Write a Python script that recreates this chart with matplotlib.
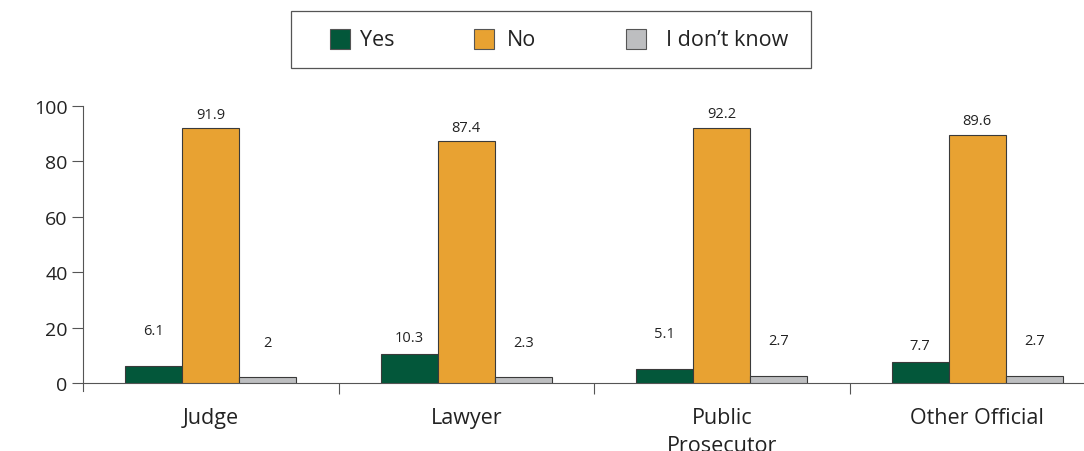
import matplotlib
matplotlib.use("Agg")
import matplotlib.pyplot as plt
from matplotlib.patches import Rectangle
import numpy as np

plt.rcParams['font.family'] = ['Open Sans', 'DejaVu Sans']

categories = ["Judge", "Lawyer", "Public\nProsecutor", "Other Official"]
series_names = ["Yes", "No", "I don\u2019t know"]
yes_vals = [6.1, 10.3, 5.1, 7.7]
no_vals = [91.9, 87.4, 92.2, 89.6]
idk_vals = [2, 2.3, 2.7, 2.7]
value_labels_yes = ["6.1", "10.3", "5.1", "7.7"]
value_labels_no = ["91.9", "87.4", "92.2", "89.6"]
value_labels_idk = ["2", "2.3", "2.7", "2.7"]
yticks = [0, 20, 40, 60, 80, 100]

# label heights (layout) for the small bars' annotations
yes_label_y = [18.8, 16.6, 17.7, 13.7]
idk_label_y = [14.8, 14.8, 15.2, 15.2]

colors = ["#03573A", "#E8A232", "#BDBEC0"]
W, H = 1084, 452

fig = plt.figure(figsize=(W / 100, H / 100), dpi=100)
ax = fig.add_axes([83 / W, 68 / H, 1022 / W, 277 / H])

x = np.arange(len(categories))
w = 57 / 255.5
for i, (vals, c) in enumerate(zip([yes_vals, no_vals, idk_vals], colors)):
    ax.bar(x + (i - 1) * w, vals, width=w, color=c, edgecolor="#3a3a3a", linewidth=0.8, zorder=3)

for xi, v, lab in zip(x, no_vals, value_labels_no):
    ax.annotate(lab, (xi, v), xytext=(0, 10), textcoords="offset points",
                ha="center", va="center", fontsize=10.5, color="#222222")
for xi, ly, lab in zip(x, yes_label_y, value_labels_yes):
    ax.text(xi - w, ly, lab, ha="center", va="center", fontsize=10.5, color="#222222")
for xi, ly, lab in zip(x, idk_label_y, value_labels_idk):
    ax.text(xi + w, ly, lab, ha="center", va="center", fontsize=10.5, color="#222222")

ax.set_xlim(-0.5, len(categories) - 0.5)
ax.set_ylim(0, 100)
ax.set_yticks(yticks)
ax.set_yticklabels([str(t) for t in yticks], fontsize=14, color="#222222")
for s in ["top", "right"]:
    ax.spines[s].set_visible(False)
ax.spines["left"].set_color("#555555")
ax.spines["bottom"].set_color("#555555")
ax.spines["left"].set_bounds(-3, 100)
ax.tick_params(axis="y", length=8, width=0.8, color="#555555", direction="out", pad=3)

ax.set_xticks(x[:-1] + 0.5)
ax.set_xticklabels([])
ax.tick_params(axis="x", length=8, width=0.8, color="#555555", direction="out")
ax.set_xticks(x, minor=True)
ax.set_xticklabels(categories, minor=True, fontsize=15.5, color="#222222", va="top", linespacing=1.4)
ax.tick_params(axis="x", which="minor", length=0, pad=17.5)

# legend box drawn in figure pixel coordinates
def fx(px):
    return px / W

def fy(py):
    return 1 - py / H

fig.patches.append(Rectangle((fx(291), fy(69)), fx(811) - fx(291), fy(12) - fy(69),
                             transform=fig.transFigure, facecolor="white",
                             edgecolor="#555555", linewidth=0.9))
patch_x = [330, 474, 626]
text_x = [360, 507, 666]
for px, tx, c, name in zip(patch_x, text_x, colors, series_names):
    fig.patches.append(Rectangle((fx(px), fy(50)), 20 / W, 20 / H, transform=fig.transFigure,
                                 facecolor=c, edgecolor="#555555", linewidth=0.8))
    fig.text(fx(tx), fy(40), name, ha="left", va="center", fontsize=15.5, color="#222222")

fig.savefig("out.png", dpi=100)
